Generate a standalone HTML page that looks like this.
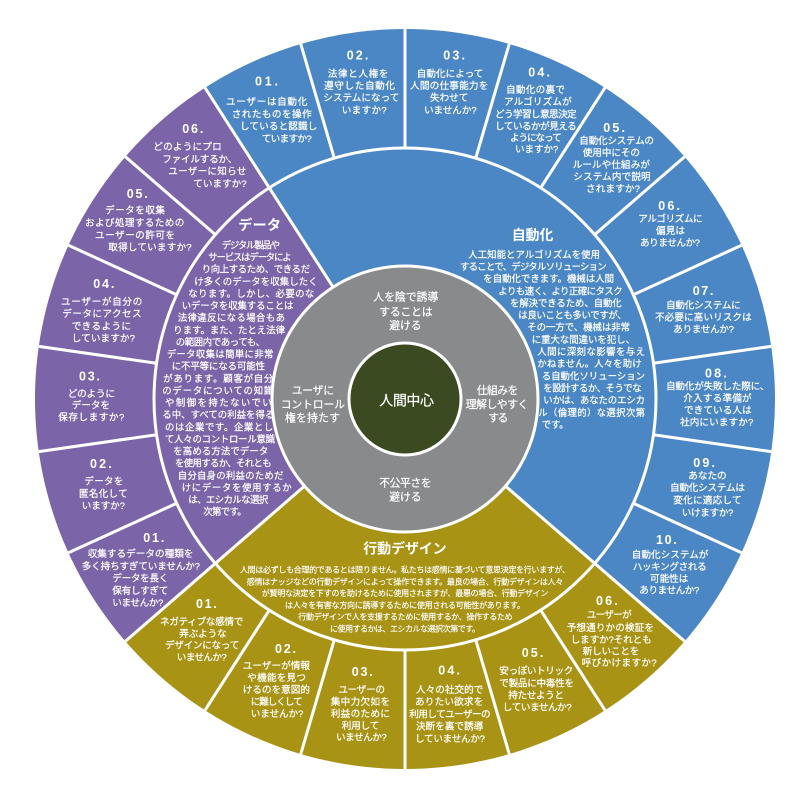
<!DOCTYPE html>
<html><head><meta charset="utf-8">
<style>
html,body{margin:0;padding:0;background:#fff;width:800px;height:800px;overflow:hidden}
svg text{fill:#fff;stroke:#fff;stroke-width:0.22px;font-family:"Liberation Sans","Noto Sans CJK JP",sans-serif;}
.s{font-size:9.6px}
.m{font-size:9.4px}
.g{font-size:8px;stroke-width:0.15px}
.r{font-size:10.8px}
.n{font-size:12.5px;font-weight:bold;font-family:"Liberation Sans",sans-serif;stroke-width:0}
.h{font-size:14px;font-weight:bold;stroke-width:0}
</style></head><body>
<svg width="800" height="800" viewBox="0 0 800 800" xmlns="http://www.w3.org/2000/svg">
<path d="M405 399 L204.96 87.74 A370 370 0 0 1 684.63 641.30 Z" fill="#4b87c5"/>
<path d="M405 399 L684.63 641.30 A370 370 0 0 1 125.37 641.30 Z" fill="#a99315"/>
<path d="M405 399 L125.37 641.30 A370 370 0 0 1 204.96 87.74 Z" fill="#7c64a9"/>
<g stroke="#fff" stroke-width="3" fill="none">
<circle cx="405" cy="399" r="251"/>
<line x1="405" y1="399" x2="204.96" y2="87.74"/>
<line x1="405" y1="399" x2="684.63" y2="641.30"/>
<line x1="405" y1="399" x2="125.37" y2="641.30"/>
<line x1="334.29" y1="158.17" x2="300.76" y2="43.99"/>
<line x1="405" y1="148" x2="405" y2="29"/>
<line x1="475.71" y1="158.17" x2="509.24" y2="43.99"/>
<line x1="540.70" y1="187.85" x2="605.04" y2="87.74"/>
<line x1="594.69" y1="234.63" x2="684.63" y2="156.70"/>
<line x1="633.32" y1="294.73" x2="741.56" y2="245.29"/>
<line x1="653.44" y1="363.28" x2="771.23" y2="346.35"/>
<line x1="653.44" y1="434.72" x2="771.23" y2="451.65"/>
<line x1="633.32" y1="503.27" x2="741.56" y2="552.71"/>
<line x1="540.70" y1="610.15" x2="605.04" y2="710.26"/>
<line x1="475.71" y1="639.83" x2="509.24" y2="754.01"/>
<line x1="405" y1="650" x2="405" y2="769"/>
<line x1="334.29" y1="639.83" x2="300.76" y2="754.01"/>
<line x1="269.30" y1="610.15" x2="204.96" y2="710.26"/>
<line x1="176.68" y1="503.27" x2="68.44" y2="552.71"/>
<line x1="156.56" y1="434.72" x2="38.77" y2="451.65"/>
<line x1="156.56" y1="363.28" x2="38.77" y2="346.35"/>
<line x1="176.68" y1="294.73" x2="68.44" y2="245.29"/>
<line x1="215.31" y1="234.63" x2="125.37" y2="156.70"/>
</g>
<circle cx="405" cy="399" r="133" fill="#898a8c" stroke="#fff" stroke-width="3"/>
<circle cx="405" cy="399" r="56" fill="#3b4a20" stroke="#fff" stroke-width="3"/>

<text class="n" x="255" y="85.7" textLength="23">01.</text>
<text class="s" x="226" y="105" textLength="81.3">ユーザーは自動化</text>
<text class="s" x="231.7" y="117.3" textLength="80">されたものを操作</text>
<text class="s" x="240" y="129.6" textLength="77.3">していると認識し</text>
<text class="s" x="261.7" y="142" textLength="50">ていますか?</text>

<text class="n" x="346.7" y="59.3" textLength="21.7">02.</text>
<text class="s" x="327.7" y="77" textLength="60.7">法律と人権を</text>
<text class="s" x="324" y="89" textLength="71">遵守した自動化</text>
<text class="s" x="323.3" y="101" textLength="76">システムになって</text>
<text class="s" x="341.7" y="113.5" textLength="45">いますか?</text>

<text class="n" x="443.3" y="59.3" textLength="21.7">03.</text>
<text class="s" x="416.7" y="77" textLength="66.7">自動化によって</text>
<text class="s" x="410" y="89" textLength="78.3">人間の仕事能力を</text>
<text class="s" x="430" y="101" textLength="38.3">失わせて</text>
<text class="s" x="424" y="113.5" textLength="52.7">いませんか?</text>

<text class="n" x="528.3" y="76.7" textLength="21.7">04.</text>
<text class="s" x="506" y="93" textLength="59">自動化の裏で</text>
<text class="s" x="504" y="105" textLength="67.7">アルゴリズムが</text>
<text class="s" x="495" y="117.5" textLength="81.7">どう学習し意思決定</text>
<text class="s" x="495" y="129.5" textLength="81.7">しているかが見える</text>
<text class="s" x="510" y="141" textLength="51.7">ようになって</text>
<text class="s" x="515" y="152.5" textLength="43.3">いますか?</text>

<text class="n" x="603.3" y="132" textLength="21.7">05.</text>
<text class="s" x="579.3" y="144" textLength="74.7">自動化システムの</text>
<text class="s" x="582.7" y="156" textLength="57.3">使用中にその</text>
<text class="s" x="572.7" y="168" textLength="77.3">ルールや仕組みが</text>
<text class="s" x="573.3" y="180" textLength="77.3">システム内で説明</text>
<text class="s" x="586" y="192" textLength="54">されますか?</text>

<text class="n" x="658.3" y="210" textLength="21.7">06.</text>
<text class="s" x="638.3" y="222" textLength="64.3">アルゴリズムに</text>
<text class="s" x="656" y="234" textLength="29">偏見は</text>
<text class="s" x="640" y="246" textLength="60">ありませんか?</text>

<text class="n" x="692.7" y="295" textLength="20.7">07.</text>
<text class="s" x="666" y="308.5" textLength="74.7">自動化システムに</text>
<text class="s" x="655" y="320.5" textLength="96.7">不必要に高いリスクは</text>
<text class="s" x="673.3" y="332.5" textLength="60.7">ありませんか?</text>

<text class="n" x="705" y="377.5" textLength="21.7">08.</text>
<text class="s" x="666" y="389.5" textLength="103.3">自動化が失敗した際に、</text>
<text class="s" x="683.3" y="401.5" textLength="68.3">介入する準備が</text>
<text class="s" x="684" y="413.5" textLength="67.7">できている人は</text>
<text class="s" x="680" y="425.5" textLength="73.3">社内にいますか?</text>

<text class="n" x="693.3" y="467" textLength="21.7">09.</text>
<text class="s" x="688.3" y="479" textLength="38.3">あなたの</text>
<text class="s" x="670" y="491.2" textLength="75">自動化システムは</text>
<text class="s" x="673.3" y="503.5" textLength="68.3">変化に適応して</text>
<text class="s" x="681.7" y="515.8" textLength="51.7">いけますか?</text>

<text class="n" x="656" y="544" textLength="20.7">10.</text>
<text class="s" x="631.7" y="558" textLength="76.7">自動化システムが</text>
<text class="s" x="632.7" y="570" textLength="74">ハッキングされる</text>
<text class="s" x="650" y="582" textLength="38.3">可能性は</text>
<text class="s" x="639.3" y="593.5" textLength="60">ありませんか?</text>

<text class="h" x="511.7" y="240" textLength="41.7">自動化</text>
<text class="m" x="468.3" y="257.8" textLength="131.7">人工知能とアルゴリズムを使用</text>
<text class="m" x="460" y="270" textLength="146.7">することで、デジタルソリューション</text>
<text class="m" x="483.3" y="282.1" textLength="130.7">を自動化できます。機械は人間</text>
<text class="m" x="498.3" y="294.3" textLength="124.3">よりも速く、より正確にタスク</text>
<text class="m" x="510" y="306.4" textLength="111.7">を解決できるため、自動化</text>
<text class="m" x="518.3" y="318.6" textLength="108.3">は良いことも多いですが、</text>
<text class="m" x="527.3" y="330.7" textLength="102.7">その一方で、機械は非常</text>
<text class="m" x="531.7" y="342.9" textLength="103.3">に重大な間違いを犯し、</text>
<text class="m" x="537.3" y="355" textLength="107.7">人間に深刻な影響を与え</text>
<text class="m" x="537.3" y="367.2" textLength="104.3">かねません。人々を助け</text>
<text class="m" x="541.7" y="379.3" textLength="103.3">る自動化ソリューション</text>
<text class="m" x="543.3" y="391.5" textLength="98.3">を設計するか、そうでな</text>
<text class="m" x="543.3" y="403.6" textLength="101.7">いかは、あなたのエシカ</text>
<text class="m" x="538.3" y="415.8" textLength="106.7" style="font-family:'Noto Sans CJK JP',sans-serif">ル（倫理的）な選択次第</text>
<text class="m" x="541.7" y="427.9" textLength="27">です。</text>

<text class="h" x="238.3" y="230" textLength="42.7">データ</text>
<text class="m" x="221.7" y="248.5" textLength="58.3">デジタル製品や</text>
<text class="m" x="208.3" y="260.6" textLength="83.3">サービスはデータによ</text>
<text class="m" x="201.7" y="272.7" textLength="108.3">り向上するため、できるだ</text>
<text class="m" x="194.3" y="284.9" textLength="123.3">け多くのデータを収集したく</text>
<text class="m" x="188.3" y="297" textLength="126">なります。しかし、必要のな</text>
<text class="m" x="181.7" y="309.1" textLength="111.7">いデータを収集することは</text>
<text class="m" x="177.7" y="321.2" textLength="107.3">法律違反になる場合もあ</text>
<text class="m" x="173.3" y="333.3" textLength="111.7">ります。また、たとえ法律</text>
<text class="m" x="175.7" y="345.5" textLength="89.3">の範囲内であっても、</text>
<text class="m" x="166.7" y="357.6" textLength="106.7">データ収集は簡単に非常</text>
<text class="m" x="171.7" y="369.7" textLength="93.3">に不平等になる可能性</text>
<text class="m" x="163.3" y="381.8" textLength="110">があります。顧客が自分</text>
<text class="m" x="162.3" y="393.9" textLength="111">のデータについての知識</text>
<text class="m" x="165" y="406.1" textLength="106.7">や制御を持たないでい</text>
<text class="m" x="162.3" y="418.2" textLength="112">る中、すべての利益を得る</text>
<text class="m" x="165" y="430.3" textLength="108.3">のは企業です。企業とし</text>
<text class="m" x="165" y="442.4" textLength="110">て人々のコントロール意識</text>
<text class="m" x="173.3" y="454.5" textLength="95">を高める方法でデータ</text>
<text class="m" x="175" y="466.7" textLength="96.7">を使用するか、それとも</text>
<text class="m" x="177.7" y="478.8" textLength="105.7">自分自身の利益のためだ</text>
<text class="m" x="181.7" y="490.9" textLength="110">けにデータを使用するか</text>
<text class="m" x="188.3" y="503" textLength="80">は、エシカルな選択</text>
<text class="m" x="203.3" y="515.1" textLength="43.3">次第です。</text>

<text class="n" x="182.3" y="133" textLength="21">06.</text>
<text class="s" x="153.3" y="150" textLength="68.4">どのようにプロ</text>
<text class="s" x="162.3" y="162.3" textLength="75">ファイルするか、</text>
<text class="s" x="168.3" y="174.6" textLength="78">ユーザーに知らせ</text>
<text class="s" x="193.3" y="186.9" textLength="53.3">ていますか?</text>

<text class="n" x="126.7" y="198" textLength="21">05.</text>
<text class="s" x="105" y="213.5" textLength="60">データを収集</text>
<text class="s" x="85" y="226" textLength="99.3">および処理するための</text>
<text class="s" x="95" y="238.5" textLength="80">ユーザーの許可を</text>
<text class="s" x="108.3" y="250.5" textLength="83.3">取得していますか?</text>

<text class="n" x="93.3" y="288" textLength="21">04.</text>
<text class="s" x="61" y="305" textLength="81.3">ユーザーが自分の</text>
<text class="s" x="62.3" y="317.2" textLength="79.3">データにアクセス</text>
<text class="s" x="71.7" y="329.5" textLength="59.3">できるように</text>
<text class="s" x="71.7" y="341.5" textLength="63.3">していますか?</text>

<text class="n" x="79" y="380.5" textLength="21">03.</text>
<text class="s" x="67.7" y="397" textLength="47.3">どのように</text>
<text class="s" x="71.7" y="408.5" textLength="38.3">データを</text>
<text class="s" x="58.3" y="420.5" textLength="66">保存しますか?</text>

<text class="n" x="90" y="468" textLength="21.7">02.</text>
<text class="s" x="84.3" y="484.5" textLength="39">データを</text>
<text class="s" x="79" y="497" textLength="48.7">匿名化して</text>
<text class="s" x="81.7" y="509" textLength="43.3">いますか?</text>

<text class="n" x="143.3" y="542" textLength="21">01.</text>
<text class="s" x="87.7" y="557" textLength="105.7">収集するデータの種類を</text>
<text class="s" x="81.7" y="569.3" textLength="118.3">多く持ちすぎていませんか?</text>
<text class="s" x="112.3" y="581.6" textLength="56">データを長く</text>
<text class="s" x="112.3" y="593.8" textLength="56">保有しすぎて</text>
<text class="s" x="112.3" y="606" textLength="51">いませんか?</text>

<text class="h" x="363.3" y="553.5" textLength="83.3">行動デザイン</text>
<text class="g" x="240" y="572.5" textLength="330">人間は必ずしも合理的であるとは限りません。私たちは感情に基づいて意思決定を行いますが、</text>
<text class="g" x="246.7" y="584.3" textLength="316.7">感情はナッジなどの行動デザインによって操作できます。最良の場合、行動デザインは人々</text>
<text class="g" x="261.7" y="596.1" textLength="286.7">が賢明な決定を下すのを助けるために使用されますが、最悪の場合、行動デザイン</text>
<text class="g" x="285" y="607.9" textLength="240">は人々を有害な方向に誘導するために使用される可能性があります。</text>
<text class="g" x="298.3" y="619.7" textLength="214.3">行動デザインで人を支援するために使用するか、操作するため</text>
<text class="g" x="330" y="631.5" textLength="150">に使用するかは、エシカルな選択次第です。</text>

<text class="n" x="196" y="608" textLength="20.7">01.</text>
<text class="s" x="160" y="625" textLength="83.3">ネガティブな感情で</text>
<text class="s" x="179.3" y="637" textLength="47.3">弄ぶような</text>
<text class="s" x="165" y="648.5" textLength="74.3">デザインになって</text>
<text class="s" x="176.7" y="660.3" textLength="50">いませんか?</text>

<text class="n" x="275" y="653" textLength="21">02.</text>
<text class="s" x="242.7" y="669" textLength="67.3">ユーザーが情報</text>
<text class="s" x="247.3" y="681" textLength="58.7">や機能を見つ</text>
<text class="s" x="242.7" y="693" textLength="67.3">けるのを意図的</text>
<text class="s" x="250.7" y="704.8" textLength="52">に難しくして</text>
<text class="s" x="250.7" y="717" textLength="52.7">いませんか?</text>

<text class="n" x="351.7" y="676" textLength="21">03.</text>
<text class="s" x="338.3" y="693" textLength="46.7">ユーザーの</text>
<text class="s" x="330.7" y="704.8" textLength="59.3">集中力欠如を</text>
<text class="s" x="330.7" y="717" textLength="59.3">利益のために</text>
<text class="s" x="341.7" y="728.8" textLength="37.7">利用して</text>
<text class="s" x="336" y="740.5" textLength="50.7">いませんか?</text>

<text class="n" x="438.3" y="674.5" textLength="21.7">04.</text>
<text class="s" x="416" y="693" textLength="67.3">人々の社交的で</text>
<text class="s" x="415" y="705.2" textLength="68.3">ありたい欲求を</text>
<text class="s" x="409.3" y="717.5" textLength="81.3">利用してユーザーの</text>
<text class="s" x="416" y="729.5" textLength="67.3">決断を裏で誘導</text>
<text class="s" x="415" y="742" textLength="70">していませんか?</text>

<text class="n" x="521.7" y="657" textLength="21.7">05.</text>
<text class="s" x="499.3" y="674.2" textLength="74">安っぽいトリック</text>
<text class="s" x="499.3" y="686.5" textLength="74.7">で製品に中毒性を</text>
<text class="s" x="508.3" y="698.5" textLength="55.7">持たせようと</text>
<text class="s" x="502.7" y="710.3" textLength="69">していませんか?</text>

<text class="n" x="596" y="605" textLength="21.7">06.</text>
<text class="s" x="586.7" y="617.8" textLength="45">ユーザーが</text>
<text class="s" x="566.7" y="631" textLength="87.3">予想通りかの検証を</text>
<text class="s" x="570.7" y="642.8" textLength="81">しますか?それとも</text>
<text class="s" x="582.7" y="654.3" textLength="56.7">新しいことを</text>
<text class="s" x="581.7" y="666.2" textLength="75">呼びかけますか?</text>

<text class="r" x="373.3" y="300.5" textLength="65">人を陰で誘導</text>
<text class="r" x="379.3" y="315.5" textLength="53.3">することは</text>
<text class="r" x="389.3" y="329" textLength="32.3">避ける</text>
<text class="r" x="291.7" y="394" textLength="42.3">ユーザに</text>
<text class="r" x="280.7" y="408" textLength="64.3">コントロール</text>
<text class="r" x="285" y="421.5" textLength="55">権を持たす</text>
<text class="r" x="476.7" y="394" textLength="41.7">仕組みを</text>
<text class="r" x="465.7" y="408" textLength="62.7">理解しやすく</text>
<text class="r" x="488.3" y="421.5" textLength="20">する</text>
<text class="r" x="379.3" y="486.5" textLength="52.3">不公平さを</text>
<text class="r" x="389.3" y="500.5" textLength="32.3">避ける</text>

<text x="379.3" y="405.5" textLength="54.7" style="font-size:14px">人間中心</text>
</svg>
</body></html>
